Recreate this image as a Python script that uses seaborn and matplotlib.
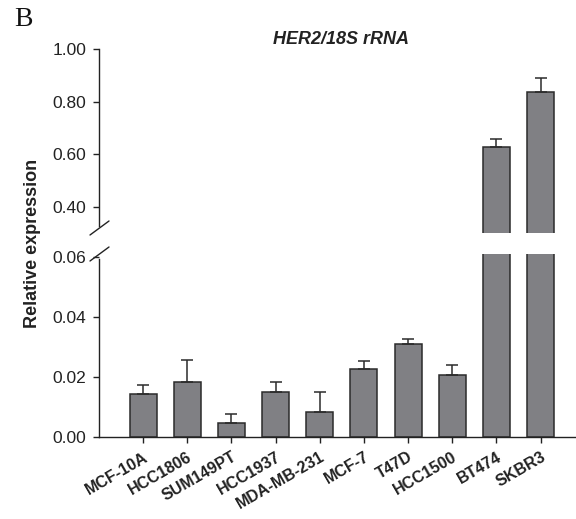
import matplotlib
matplotlib.use("Agg")
import matplotlib.pyplot as plt
import seaborn as sns
import numpy as np
import pandas as pd

cell_lines = ["MCF-10A", "HCC1806", "SUM149PT", "HCC1937", "MDA-MB-231",
              "MCF-7", "T47D", "HCC1500", "BT474", "SKBR3"]
expression = [0.0142, 0.0185, 0.0046, 0.0150, 0.0082,
              0.0228, 0.0311, 0.0208, 0.627, 0.838]
error = [0.0032, 0.0071, 0.0031, 0.0035, 0.0068,
         0.0027, 0.0016, 0.0032, 0.032, 0.051]

df = pd.DataFrame({"cell": cell_lines, "expr": expression, "err": error})

sns.set_style("ticks")
plt.rcParams["font.family"] = ["Liberation Sans", "DejaVu Sans"]

W, H = 576, 519
fig = plt.figure(figsize=(W / 100, H / 100), dpi=100)

def frac_box(x0, x1, ytop, ybot):
    return [x0 / W, 1 - ybot / H, (x1 - x0) / W, (ybot - ytop) / H]

ax_top = fig.add_axes(frac_box(99, 575, 49, 233))
ax_bot = fig.add_axes(frac_box(99, 575, 254, 437))

bar_color = "#808084"
edge = "#2b2b2b"

for ax in (ax_top, ax_bot):
    sns.barplot(data=df, x="cell", y="expr", ax=ax, color=bar_color,
                edgecolor=edge, linewidth=1.1, width=0.61, errorbar=None,
                saturation=1)
    xs = np.arange(len(cell_lines))
    ax.errorbar(xs, df["expr"], yerr=[np.zeros(len(df)), df["err"]],
                fmt="none", ecolor=edge, elinewidth=1.1, capsize=4.5,
                capthick=1.1, zorder=1)
    ax.set_xlim(-1.0, 9.78)
    ax.set_xlabel("")
    ax.set_ylabel("")
    ax.tick_params(axis="y", direction="out", length=4, width=1,
                   labelsize=12.5, colors="#222222", pad=5)
    for s in ("top", "right"):
        ax.spines[s].set_visible(False)
    ax.spines["left"].set_linewidth(1.0)
    ax.spines["left"].set_color("#222222")

# top panel
ax_top.set_ylim(0.30, 1.0)
ax_top.set_yticks([0.40, 0.60, 0.80, 1.00])
ax_top.set_yticklabels(["0.40", "0.60", "0.80", "1.00"])
ax_top.spines["bottom"].set_visible(False)
ax_top.spines["left"].set_bounds(0.325, 1.0)
ax_top.tick_params(axis="x", bottom=False, labelbottom=False)

# bottom panel
ax_bot.set_ylim(0, 0.061)
ax_bot.set_yticks([0.00, 0.02, 0.04, 0.06])
ax_bot.set_yticklabels(["0.00", "0.02", "0.04", "0.06"])
ax_bot.spines["left"].set_bounds(0, 0.0595)
ax_bot.spines["bottom"].set_linewidth(1.0)
ax_bot.spines["bottom"].set_color("#222222")
ax_bot.tick_params(axis="x", direction="out", length=4, width=1,
                   colors="#222222", pad=5)
ax_bot.set_xticks(np.arange(len(cell_lines)))
ax_bot.set_xticklabels(cell_lines, rotation=30, ha="right",
                       rotation_mode="anchor", fontsize=11.5,
                       fontweight="bold", color="#222222")

# break marks
for yc in (228, 254):
    fig.add_artist(plt.Line2D([90 / W, 109 / W],
                              [1 - (yc + 7) / H, 1 - (yc - 7) / H],
                              color="#222222", lw=1.0))

fig.text(341 / W, 1 - 39 / H, "HER2/18S rRNA", ha="center", va="center",
         fontsize=13, fontweight="bold", fontstyle="italic", color="#222222")
fig.text(33 / W, 1 - 243 / H, "Relative expression", ha="center",
         va="center", rotation=90, fontsize=13, fontweight="bold",
         color="#222222")
fig.text(14 / W, 1 - 20 / H, "B", ha="left", va="center", fontsize=20,
         family=["Liberation Serif", "DejaVu Serif"], color="#111111")

fig.savefig("out.png", dpi=100)
